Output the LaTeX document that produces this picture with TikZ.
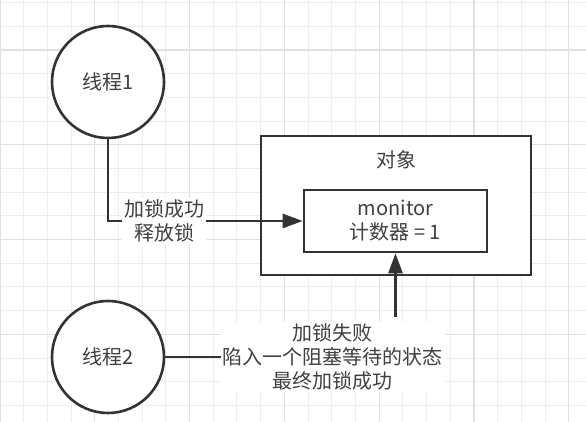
\documentclass[tikz,border=0pt]{standalone}
\usepackage{fontspec}
\newfontfamily\cjk{Noto Sans CJK SC}
\usetikzlibrary{arrows.meta}

\begin{document}
\begin{tikzpicture}[x=0.5pt, y=-0.5pt, font=\cjk\fontsize{10}{12}\selectfont,
		minorline/.style={line width=0.5pt, color=black!7},
		majorline/.style={line width=0.6pt, color=black!12},
		thread/.style={circle, draw=black!80, line width=1.3pt, fill=white, minimum size=56pt, text=black!75},
		box/.style={rectangle, draw=black!80, line width=1.3pt, fill=white},
		lab/.style={fill=white, align=center, text=black!75, inner sep=1pt},
		arr/.style={draw=black!80, line width=1.3pt, -{Triangle[length=10pt, width=7pt]}},
		link/.style={draw=black!80, line width=1.3pt}]
			%%%%% START %%%%%
			
			\useasboundingbox[fill=white] (0, 0) rectangle (586, 422);
			
			% grid
			\foreach \i in {0,...,24} {
				\draw[minorline] (\i*23.7, 0) -- (\i*23.7, 422);
			}
			\foreach \j in {0,...,17} {
				\draw[minorline] (0, 2.6+\j*23.7) -- (586, 2.6+\j*23.7);
			}
			\foreach \i in {0,...,6} {
				\draw[majorline] (\i*94.8, 0) -- (\i*94.8, 422);
			}
			\foreach \j in {0,...,4} {
				\draw[majorline] (0, 50+\j*94.8-94.8) -- (586, 50+\j*94.8-94.8);
			}
			
			% threads
			\node[thread] (thread1) at (108, 82) {线程1};
			\node[thread] (thread2) at (108, 357) {线程2};
			
			% object with monitor
			\node[box, minimum width=135pt, minimum height=69.5pt] (object) at (396, 205.5) {};
			\node[text=black!75] (objtitle) at (397, 160) {对象};
			\node[box, minimum width=91.5pt, minimum height=31pt, align=center, text=black!75] (monitor) at (395.5, 221) {monitor\\计数器 = 1};
			
			% thread 1 gets the lock
			\draw[arr] (thread1.south) |- node[lab, pos=0.645] (lockok) {加锁成功\\释放锁} (monitor.west);
			
			% thread 2 waits
			\node[lab] (lockfail) at (333, 357) {加锁失败\\陷入一个阻塞等待的状态\\最终加锁成功};
			\draw[link] (thread2.east) -- (lockfail.west);
			\draw[arr] (lockfail.north -| monitor.south) ++(0, -4) -- (monitor.south);
			
			%%%%% END %%%%%
\end{tikzpicture}
\end{document}
